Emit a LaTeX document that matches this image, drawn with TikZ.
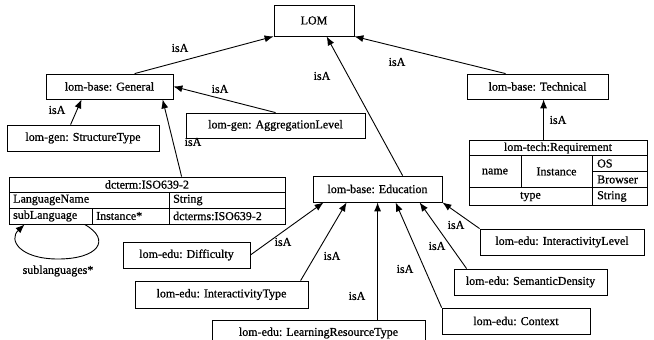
\documentclass[tikz,border=0pt]{standalone}
\usepackage{fontspec}
\setmainfont{Liberation Serif}
\newfontfamily\diagfont[FakeBold=0.8]{Liberation Serif}
\usetikzlibrary{arrows.meta}

\tikzset{
  x=1pt, y=-1pt,
  txt/.style={font=\diagfont\fontsize{12}{14}\selectfont},
  box/.style={txt, draw, line width=0.8pt, inner sep=0pt, minimum height=26pt},
  tbl/.style={draw, line width=0.8pt, inner sep=0pt},
  cell/.style={txt, inner sep=0pt},
  lbl/.style={txt, inner sep=0pt},
  isa/.style={line width=0.9pt, -{Latex[length=9pt,width=7pt]}},
  rule/.style={line width=0.8pt}
}

\begin{document}
\begin{tikzpicture}
\useasboundingbox (0,0) rectangle (654,340);

% class boxes
\node[box, minimum width=80pt, minimum height=31pt] (lom) at (314,20.5) {LOM};
\node[box, minimum width=127pt, minimum height=25pt] (general) at (109.5,86.5) {lom-base: General};
\node[box, minimum width=152pt] (structure) at (83,138) {lom-gen: StructureType};
\node[box, minimum width=179pt, minimum height=25pt] (aggr) at (275.5,125.5) {lom-gen: AggregationLevel};
\node[box, minimum width=141pt, minimum height=25pt] (technical) at (537.5,86.5) {lom-base: Technical};
\node[box, minimum width=129pt] (education) at (377.5,189) {lom-base: Education};
\node[box, minimum width=127pt] (difficulty) at (186.5,255) {lom-edu: Difficulty};
\node[box, minimum width=173pt, minimum height=27pt] (inttype) at (221.5,294.5) {lom-edu: InteractivityType};
\node[box, minimum width=213pt] (lrt) at (318.5,333) {lom-edu: LearningResourceType};
\node[box, minimum width=148pt] (context) at (516,321) {lom-edu: Context};
\node[box, minimum width=153pt] (semantic) at (530.5,282) {lom-edu: SemanticDensity};
\node[box, minimum width=164pt] (intlevel) at (562,242) {lom-edu: InteractivityLevel};

% dcterm:ISO639-2 table
\node[tbl, minimum width=276pt, minimum height=47pt] (dct) at (147,200.5) {};
\draw[rule] (9,192) -- (285,192);
\draw[rule] (9,208) -- (285,208);
\draw[rule] (169,192) -- (169,224);
\draw[rule] (92,208) -- (92,224);
\node[cell] (dcthead) at (147,184.5) {dcterm:ISO639-2};
\node[cell, anchor=west] (dctname) at (13,200) {LanguageName};
\node[cell, anchor=west] (dctstr) at (173,200) {String};
\node[cell, anchor=west] (dctsub) at (13,216) {subLanguage};
\node[cell, anchor=west] (dctinst) at (96,216) {Instance*};
\node[cell, anchor=west] (dctiso) at (173,216) {dcterms:ISO639-2};

% lom-tech:Requirement table
\node[tbl, minimum width=178pt, minimum height=65pt] (req) at (558,172.5) {};
\draw[rule] (469,155.5) -- (647,155.5);
\draw[rule] (592,171.5) -- (647,171.5);
\draw[rule] (469,187.5) -- (647,187.5);
\draw[rule] (521,155.5) -- (521,187.5);
\draw[rule] (592,155.5) -- (592,205);
\node[cell] (reqhead) at (558,148) {lom-tech:Requirement};
\node[cell] (reqname) at (495,171.5) {name};
\node[cell] (reqinst) at (556.5,171.5) {Instance};
\node[cell, anchor=west] (reqos) at (597,163.5) {OS};
\node[cell, anchor=west] (reqbrowser) at (597,179.5) {Browser};
\node[cell] (reqtype) at (530.5,196.5) {type};
\node[cell, anchor=west] (reqstr) at (597,196.5) {String};

% isA connectors
\draw[isa] ([xshift=89pt]general.north west) -- (lom.south west);
\draw[isa] ([xshift=90pt]aggr.north west) -- (general.east);
\draw[isa] ([xshift=64pt]structure.north west) -- ([xshift=36pt]general.south west);
\draw[isa] ([xshift=173pt]dct.north west) -- ([xshift=117pt]general.south west);
\draw[isa] ([xshift=39pt]technical.north west) -- (lom.south east);
\draw[isa] ([xshift=90pt]education.north west) -- ([xshift=53pt]lom.south west);
\coordinate (reqtop) at ([xshift=75pt]req.north west);
\draw[isa] (reqtop) -- (reqtop |- technical.south);

\draw[isa] (difficulty.east) -- ([xshift=11pt]education.south west);
\draw[isa] ([xshift=166pt]inttype.north west) -- ([xshift=34pt]education.south west);
\coordinate (lrttop) at ([xshift=166pt]lrt.north west);
\draw[isa] (lrttop) -- (lrttop |- education.south);
\draw[isa] (context.north west) -- ([xshift=83pt]education.south west);
\draw[isa] ([xshift=13pt]semantic.north west) -- ([xshift=107pt]education.south west);
\draw[isa] (intlevel.north west) -- (education.south east);

% self reference of the sublanguage cell
\coordinate (loopa) at ([xshift=76pt]dct.south west);
\coordinate (loopb) at ([xshift=16pt]dct.south west);
\draw[isa] (loopa) .. controls (112,240) and (98,259) .. (58,259)
                  .. controls (20,259) and (8,240) .. (loopb);
\node[lbl] (looplbl) at (58,271) {sublanguages*};

% edge labels
\node[lbl] (l1) at (180,48) {isA};
\node[lbl] (l2) at (220,89) {isA};
\node[lbl] (l3) at (57,110) {isA};
\node[lbl] (l4) at (193,142) {isA};
\node[lbl] (l5) at (397,62) {isA};
\node[lbl] (l6) at (322,76) {isA};
\node[lbl] (l7) at (558,120) {isA};
\node[lbl] (l8) at (283,242) {isA};
\node[lbl] (l9) at (332,256) {isA};
\node[lbl] (l10) at (357,296) {isA};
\node[lbl] (l11) at (405,269) {isA};
\node[lbl] (l12) at (437,246) {isA};
\node[lbl] (l13) at (456,225) {isA};
\end{tikzpicture}
\end{document}
